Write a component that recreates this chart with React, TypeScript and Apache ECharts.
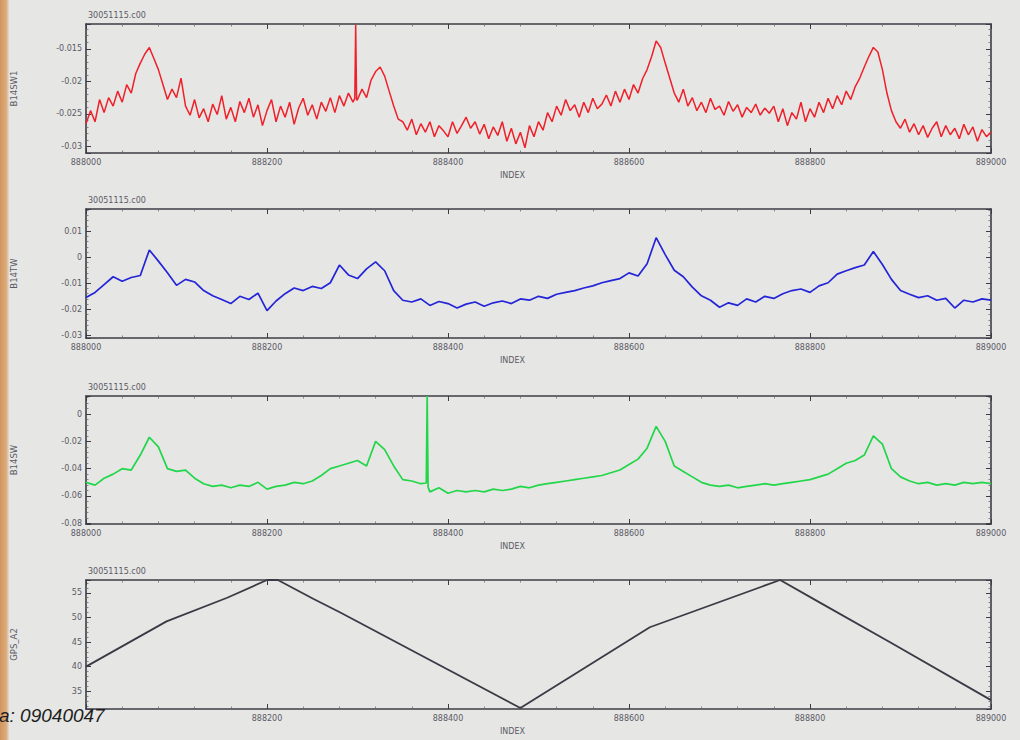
import React, { useEffect, useRef } from "react";
import * as echarts from "echarts";

const FILE_TITLE = "30051115.c00";
const X_MIN = 888000;
const X_MAX = 889000;
const X_INTERVAL = 200;
const AXIS_X_NAME = "INDEX";
const FOOT_NOTE = "a: 09040047";

const panelNames = ["B14SW1", "B14TW", "B14SW", "GPS_A2"];
const panelYMin = [-0.031, -0.031, -0.0805, 31.4];
const panelYMax = [-0.0112, 0.0185, 0.0132, 57.6];
const panelSplit = [4, 5, 5, 5];
const panelColors = ["#f0202a", "#2424d8", "#22d64a", "#3a3a44"];

// red trace, one value every 5 index units from 888000
const redStep = 5;
const redValues = [
  -0.0265, -0.0245, -0.0262, -0.0228, -0.0248, -0.0225, -0.0238, -0.0215, -0.0232, -0.0205,
  -0.0218, -0.0188, -0.0172, -0.0158, -0.0148, -0.0165, -0.0182, -0.0205, -0.0228, -0.0212,
  -0.0225, -0.0195, -0.0238, -0.0252, -0.0228, -0.0256, -0.0242, -0.0262, -0.0235, -0.0251,
  -0.0222, -0.0258, -0.024, -0.0262, -0.0231, -0.0248, -0.0226, -0.0255, -0.0236, -0.0268,
  -0.0245, -0.0228, -0.0262, -0.0238, -0.0255, -0.0232, -0.0266, -0.0241, -0.0226, -0.0252,
  -0.0236, -0.0258, -0.0232, -0.0246, -0.0225, -0.0248, -0.0222, -0.0238, -0.0218, -0.0232,
  -0.0228, -0.0212, -0.0225, -0.0198, -0.0185, -0.0178, -0.0192, -0.0215, -0.0238, -0.0258,
  -0.0262, -0.0275, -0.0258, -0.0282, -0.0265, -0.0278, -0.0262, -0.0285, -0.0268, -0.0276,
  -0.0285, -0.0262, -0.028, -0.0268, -0.0255, -0.0272, -0.0262, -0.0281, -0.0266, -0.0288,
  -0.027, -0.0283, -0.0262, -0.0292, -0.0272, -0.0296, -0.0278, -0.0302, -0.0268, -0.0285,
  -0.0262, -0.0275, -0.0248, -0.0262, -0.0238, -0.0252, -0.0228, -0.0245, -0.0236, -0.0255,
  -0.0232, -0.0248, -0.0226, -0.0242, -0.0235, -0.0221, -0.0238, -0.0215, -0.0232, -0.0212,
  -0.0228, -0.0205, -0.0218, -0.0196, -0.0182, -0.0162, -0.0138, -0.0148, -0.0172, -0.0195,
  -0.0218, -0.0232, -0.0212, -0.0238, -0.0225, -0.0245, -0.0232, -0.0248, -0.0226, -0.0243,
  -0.0238, -0.0252, -0.0231, -0.0246, -0.0236, -0.0255, -0.024, -0.0248, -0.0235, -0.0252,
  -0.0241, -0.0249, -0.0238, -0.0262, -0.0242, -0.0268, -0.0248, -0.0258, -0.0232, -0.0262,
  -0.0242, -0.0255, -0.0232, -0.0248, -0.0226, -0.0242, -0.0222, -0.0236, -0.0215, -0.0228,
  -0.0208, -0.0195, -0.0178, -0.0162, -0.0148, -0.0155, -0.0182, -0.0218, -0.0245, -0.0262,
  -0.0272, -0.0258, -0.0278, -0.0265, -0.0282, -0.0268, -0.0286, -0.0272, -0.0262, -0.0285,
  -0.0268, -0.0282, -0.0272, -0.0288, -0.0266, -0.0282, -0.027, -0.0292, -0.0274, -0.0285,
  -0.0278,
];
const redSpikeIndex = [888297, 888298, 888299];
const redSpikeValues = [-0.0226, -0.0113, -0.0229];

// blue trace, one value every 10 index units
const blueStep = 10;
const blueValues = [
  -0.0155, -0.0135, -0.0105, -0.0075, -0.0092, -0.0078, -0.007, 0.0028, -0.0015, -0.006,
  -0.0108, -0.0085, -0.0095, -0.0128, -0.0148, -0.0162, -0.0178, -0.015, -0.0162, -0.0138,
  -0.0205, -0.0168, -0.014, -0.0118, -0.0128, -0.0112, -0.012, -0.0098, -0.003, -0.0068,
  -0.0082, -0.0045, -0.0018, -0.0052, -0.0128, -0.0165, -0.0172, -0.016, -0.0185, -0.017,
  -0.0178, -0.0195, -0.018, -0.0172, -0.0188, -0.0175, -0.0168, -0.0178, -0.016, -0.0165,
  -0.015, -0.0158, -0.0142, -0.0135, -0.0128, -0.0118, -0.011, -0.0098, -0.009, -0.0082,
  -0.006, -0.0072, -0.0025, 0.0075, 0.001, -0.005, -0.0075, -0.0115, -0.0148, -0.0165,
  -0.0192, -0.0175, -0.0185, -0.016, -0.0172, -0.015, -0.0158, -0.014, -0.0128, -0.0122,
  -0.0135, -0.011, -0.0098, -0.0065, -0.0052, -0.004, -0.003, 0.0022, -0.0028, -0.0085,
  -0.0128, -0.0142, -0.0155, -0.0148, -0.0165, -0.0158, -0.0195, -0.0165, -0.0172, -0.016,
  -0.0165,
];

// green trace, one value every 10 index units
const greenStep = 10;
const greenValues = [
  -0.05, -0.052, -0.047, -0.044, -0.04, -0.041, -0.03, -0.017, -0.024, -0.04,
  -0.042, -0.041, -0.047, -0.051, -0.053, -0.052, -0.054, -0.052, -0.053, -0.05,
  -0.055, -0.053, -0.052, -0.05, -0.051, -0.049, -0.045, -0.04, -0.038, -0.036,
  -0.034, -0.038, -0.02, -0.026, -0.038, -0.048, -0.049, -0.051, -0.057, -0.054,
  -0.058, -0.056, -0.057, -0.056, -0.057, -0.055, -0.056, -0.055, -0.053, -0.054,
  -0.052, -0.051, -0.05, -0.049, -0.048, -0.047, -0.046, -0.045, -0.043, -0.041,
  -0.037, -0.033, -0.025, -0.009, -0.02, -0.038, -0.042, -0.046, -0.05, -0.052,
  -0.053, -0.052, -0.054, -0.053, -0.052, -0.051, -0.052, -0.051, -0.05, -0.049,
  -0.048, -0.046, -0.044, -0.04, -0.036, -0.034, -0.03, -0.016, -0.022, -0.04,
  -0.046, -0.049, -0.051, -0.05, -0.052, -0.051, -0.052, -0.05, -0.051, -0.05,
  -0.051,
];
const greenSpikeIndex = [888376, 888377, 888378];
const greenSpikeValues = [-0.0505, 0.0132, -0.0535];

// GPS_A2 trace
const gpsIndex = [888000, 888089, 888156, 888200, 888212, 888251, 888281, 888480, 888623, 888767, 888811, 888888, 889000];
const gpsValues = [40, 49.2, 54, 57.6, 57.6, 53.8, 51, 31.6, 48, 57.6, 53, 45, 33.2];

const panelTop = [24, 209, 396, 580];
const panelHeight = [129, 129, 128, 129];
const GRID_LEFT = 86;
const GRID_WIDTH = 905;

function stepped(start: number, step: number, vals: number[]) {
  return vals.map((v, i) => [start + i * step, v]);
}
function pairs(xs: number[], ys: number[]) {
  return xs.map((x, i) => [x, ys[i]]);
}
function merged(a: number[][], b: number[][]) {
  return a.concat(b).sort((p, q) => p[0] - q[0]);
}

const AXIS_COLOR = "#3c3c44";
const LABEL_COLOR = "#5a5a66";

export default function App() {
  const ref = useRef<HTMLDivElement>(null);
  useEffect(() => {
    if (!ref.current) return;
    const chart = echarts.init(ref.current, undefined, { renderer: "svg" });

    const seriesData = [
      merged(stepped(X_MIN, redStep, redValues), pairs(redSpikeIndex, redSpikeValues)),
      stepped(X_MIN, blueStep, blueValues),
      merged(stepped(X_MIN, greenStep, greenValues), pairs(greenSpikeIndex, greenSpikeValues)),
      pairs(gpsIndex, gpsValues),
    ];
    const lineWidths = [1.5, 1.7, 1.7, 1.8];

    const grids: any[] = [];
    const xAxes: any[] = [];
    const yAxes: any[] = [];
    const series: any[] = [];
    const graphics: any[] = [];

    const tickCommon = {
      axisLine: { show: true, onZero: false, lineStyle: { color: AXIS_COLOR, width: 1.6 } },
      axisTick: { show: true, inside: true, length: 5, lineStyle: { color: AXIS_COLOR, width: 1 } },
      minorTick: { show: true, splitNumber: 5, length: 2.5, lineStyle: { color: "#6a6a72", width: 0.8 } },
      splitLine: { show: false },
      minorSplitLine: { show: false },
    };

    for (let p = 0; p < 4; p++) {
      grids.push({
        left: GRID_LEFT,
        top: panelTop[p],
        width: GRID_WIDTH,
        height: panelHeight[p],
        containLabel: false,
        show: false,
      });
      xAxes.push({
        type: "value",
        gridIndex: p,
        position: "bottom",
        min: X_MIN,
        max: X_MAX,
        interval: X_INTERVAL,
        ...tickCommon,
        axisLabel: {
          show: true,
          // the last panel's first label is covered by the foot note in the photo
          showMinLabel: p !== 3,
          color: LABEL_COLOR,
          fontSize: 8,
          fontFamily: "DejaVu Sans",
          margin: 5,
          formatter: (v: number) => String(v),
        },
      });
      xAxes.push({
        type: "value",
        gridIndex: p,
        position: "top",
        min: X_MIN,
        max: X_MAX,
        interval: X_INTERVAL,
        ...tickCommon,
        axisLabel: { show: false },
      });
      yAxes.push({
        type: "value",
        gridIndex: p,
        position: "left",
        min: panelYMin[p],
        max: panelYMax[p],
        splitNumber: panelSplit[p],
        ...tickCommon,
        axisLabel: {
          show: true,
          showMinLabel: false,
          showMaxLabel: false,
          color: LABEL_COLOR,
          fontSize: 8,
          fontFamily: "DejaVu Sans",
          margin: 4,
        },
        name: panelNames[p],
        nameLocation: "middle",
        nameRotate: 90,
        nameGap: 68,
        nameTextStyle: { color: LABEL_COLOR, fontSize: 8.5, fontFamily: "DejaVu Sans" },
      });
      yAxes.push({
        type: "value",
        gridIndex: p,
        position: "right",
        min: panelYMin[p],
        max: panelYMax[p],
        splitNumber: panelSplit[p],
        ...tickCommon,
        axisLabel: { show: false },
      });
      series.push({
        type: "line",
        xAxisIndex: p * 2,
        yAxisIndex: p * 2,
        data: seriesData[p],
        showSymbol: false,
        symbol: "none",
        lineStyle: { color: panelColors[p], width: lineWidths[p] },
        clip: true,
        z: 3,
      });
      graphics.push({
        type: "text",
        left: GRID_LEFT + 2,
        top: panelTop[p] - 13,
        style: { text: FILE_TITLE, fill: LABEL_COLOR, fontSize: 8, fontFamily: "DejaVu Sans" },
      });
      graphics.push({
        type: "text",
        left: 500,
        top: panelTop[p] + panelHeight[p] + 18,
        style: { text: AXIS_X_NAME, fill: LABEL_COLOR, fontSize: 8, fontFamily: "DejaVu Sans" },
      });
    }

    graphics.push({
      type: "rect",
      left: 0,
      top: 0,
      shape: { x: 0, y: 0, width: 9, height: 740 },
      style: {
        fill: new echarts.graphic.LinearGradient(0, 0, 1, 0, [
          { offset: 0, color: "#d2955e" },
          { offset: 0.7, color: "#dcab7c" },
          { offset: 1, color: "#e2ddd6" },
        ]),
      },
      z: 10,
    });
    graphics.push({
      type: "text",
      left: -1,
      top: 706,
      style: {
        text: FOOT_NOTE,
        fill: "#1e1e22",
        fontSize: 19,
        fontStyle: "italic",
        fontFamily: "Liberation Sans",
      },
      z: 11,
    });

    chart.setOption({
      animation: false,
      backgroundColor: "#e6e6e4",
      grid: grids,
      xAxis: xAxes,
      yAxis: yAxes,
      series,
      graphic: graphics,
    });
    return () => chart.dispose();
  }, []);
  return (
    <div
      ref={ref}
      style={{ position: "absolute", left: 0, top: 0, width: 1020, height: 740 }}
    />
  );
}
